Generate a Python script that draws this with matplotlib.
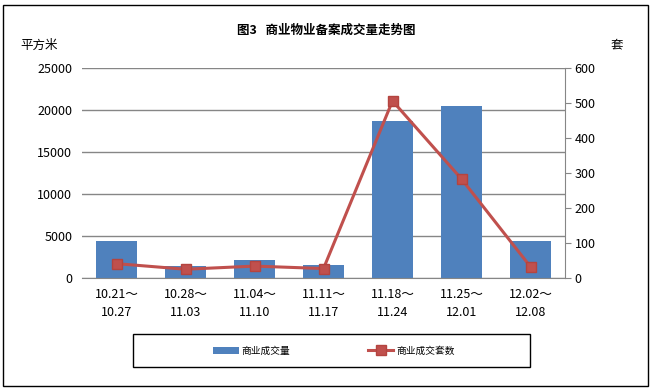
import numpy as np
import matplotlib
matplotlib.use("Agg")
import matplotlib.pyplot as plt
from matplotlib.patches import Rectangle

plt.rcParams['font.family'] = ['Noto Sans CJK SC', 'DejaVu Sans']

weeks = ["10.21～\n10.27", "10.28～\n11.03", "11.04～\n11.10", "11.11～\n11.17",
         "11.18～\n11.24", "11.25～\n12.01", "12.02～\n12.08"]
area = [4400, 1430, 2140, 1550, 18700, 20500, 4400]   # 商业成交量 (平方米)
units = [41, 25, 34, 27, 506, 283, 32]                 # 商业成交套数 (套)

fig = plt.figure(figsize=(6.52, 3.9), dpi=100)
ax = fig.add_axes([82/652, 1-278/390, 483/652, 210/390])

x = np.arange(len(weeks))
bars = ax.bar(x, area, width=0.58, color="#4F81BD", label="商业成交量", zorder=2)
ax.set_ylim(0, 25000)
ax.set_xlim(-0.5, len(weeks) - 0.5)
ax.set_yticks(range(0, 25001, 5000))
ax.yaxis.grid(True, color="#868686", linewidth=1, zorder=0)
ax.set_axisbelow(True)
ax.set_xticks(x)
ax.set_xticklabels(weeks, fontsize=9, linespacing=1.5)
ax.tick_params(axis='x', length=0, pad=7)
ax.tick_params(axis='y', length=0, labelsize=9, pad=7)
for s in ["top", "left", "right"]:
    ax.spines[s].set_visible(False)
ax.spines["bottom"].set_color("#868686")

ax2 = ax.twinx()
line, = ax2.plot(x, units, color="#C0504D", linewidth=2.2, marker="s", markersize=7,
                 markerfacecolor="#C0504D", markeredgecolor="#B4443F", label="商业成交套数", zorder=3)
ax2.set_ylim(0, 600)
ax2.set_yticks(range(0, 601, 100))
ax2.tick_params(axis='y', length=4, color="#868686", labelsize=9, pad=3)
for s in ["top", "left", "bottom"]:
    ax2.spines[s].set_visible(False)
ax2.spines["right"].set_color("#868686")

fig.text(0.5, 1-30/390, "图3   商业物业备案成交量走势图", ha="center", va="center",
         fontsize=9, fontweight="bold")
fig.text(20/652, 1-45/390, "平方米", ha="left", va="center", fontsize=9)
fig.text(611/652, 1-45/390, "套", ha="left", va="center", fontsize=9)

# legend entries without frame, box drawn separately
leg = fig.legend([bars, line], ["商业成交量", "商业成交套数"], loc="center", ncol=2,
                 bbox_to_anchor=(334/652, 1-350.5/390), frameon=False, fontsize=7,
                 handlelength=2.6, handletextpad=0.3, columnspacing=8)
fig.patches.append(Rectangle((133/652, 1-367/390), 397/652, 33/390, transform=fig.transFigure,
                             fill=False, edgecolor="black", linewidth=1))

fig.patches.append(Rectangle((3/652, 4/390), 645/652, 381/390, transform=fig.transFigure,
                             fill=False, edgecolor="black", linewidth=1))

fig.savefig("out.png", dpi=100)
